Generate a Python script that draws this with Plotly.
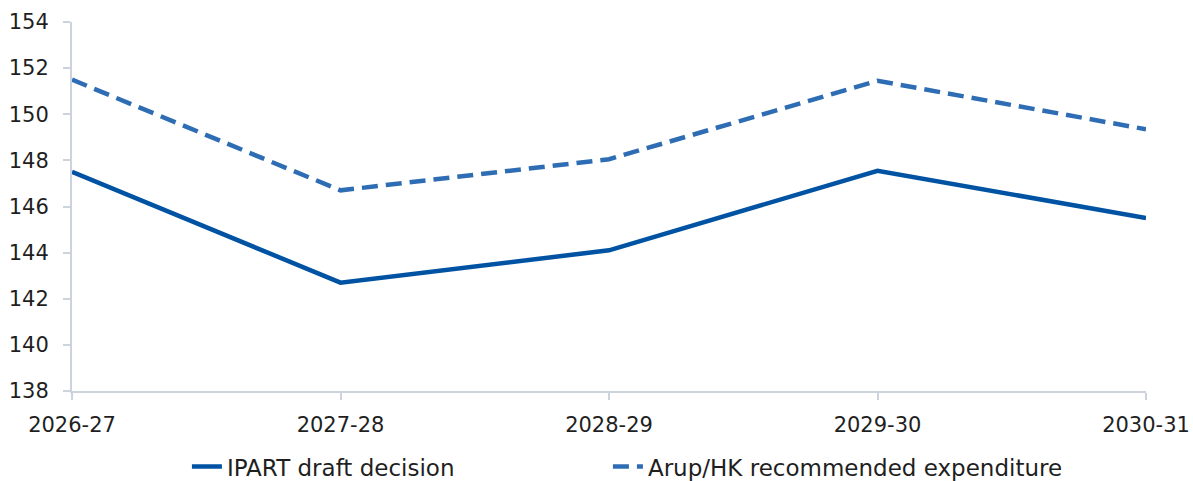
import plotly.graph_objects as go

# Financial years on the horizontal axis
years = ["2026-27", "2027-28", "2028-29", "2029-30", "2030-31"]

# Expenditure series ($ million)
ipart_draft = [147.5, 142.7, 144.1, 147.55, 145.5]
arup_hk = [151.5, 146.7, 148.05, 151.45, 149.35]

y_ticks = [138, 140, 142, 144, 146, 148, 150, 152, 154]

FONT = "DejaVu Sans"
AXIS_COLOR = "#cdd3dd"
TEXT_COLOR = "#1f1f1f"
LEGEND_FONT = dict(family=FONT, size=23, color=TEXT_COLOR)

fig = go.Figure()
fig.add_trace(go.Scatter(
    x=years, y=ipart_draft, mode="lines", name="IPART draft decision",
    line=dict(color="#0052a3", width=4.5), legend="legend",
))
fig.add_trace(go.Scatter(
    x=years, y=arup_hk, mode="lines", name="Arup/HK recommended expenditure",
    line=dict(color="#2e6db4", width=4.5, dash="16px,8px"), legend="legend2",
))

legend_common = dict(orientation="h", xanchor="left", y=-0.205, yanchor="middle",
                     font=LEGEND_FONT, bgcolor="rgba(0,0,0,0)")

fig.update_layout(
    width=1193, height=481,
    margin=dict(l=72, r=47, t=22, b=90, autoexpand=False),
    paper_bgcolor="white", plot_bgcolor="white",
    font=dict(family=FONT, size=22, color=TEXT_COLOR),
    showlegend=True,
    legend=dict(x=0.107, **legend_common),
    legend2=dict(x=0.499, **legend_common),
    xaxis=dict(
        type="category", range=[0, len(years) - 1],
        showgrid=False, zeroline=False,
        showline=True, linecolor=AXIS_COLOR, linewidth=2,
        ticks="outside", ticklen=7, tickwidth=2, tickcolor=AXIS_COLOR,
        ticklabelstandoff=7,
        tickfont=dict(family=FONT, size=21, color=TEXT_COLOR),
    ),
    yaxis=dict(
        range=[138, 154], tickvals=y_ticks,
        showgrid=False, zeroline=False,
        showline=True, linecolor=AXIS_COLOR, linewidth=2,
        ticks="outside", ticklen=7, tickwidth=2, tickcolor=AXIS_COLOR,
        ticklabelstandoff=10,
        tickfont=dict(family=FONT, size=21, color=TEXT_COLOR),
    ),
)

fig.write_html("out.html")
